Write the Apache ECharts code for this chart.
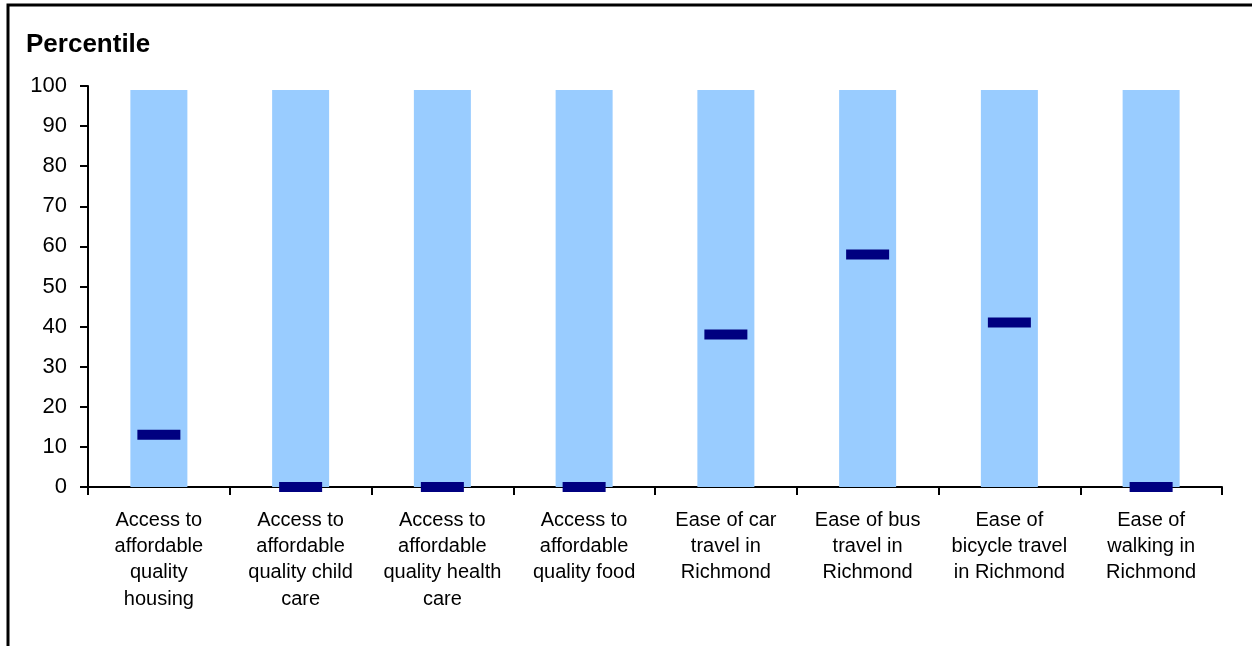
<!DOCTYPE html>
<html>
<head>
<meta charset="utf-8">
<script src="https://cdn.jsdelivr.net/npm/echarts@6/dist/echarts.min.js"></script>
<style>
html,body{margin:0;padding:0;background:#fff;}
#chart{width:1252px;height:646px;}
</style>
</head>
<body>
<div id="chart"></div>
<script>
var categories = [
  "Access to\naffordable\nquality\nhousing",
  "Access to\naffordable\nquality child\ncare",
  "Access to\naffordable\nquality health\ncare",
  "Access to\naffordable\nquality food",
  "Ease of car\ntravel in\nRichmond",
  "Ease of bus\ntravel in\nRichmond",
  "Ease of\nbicycle travel\nin Richmond",
  "Ease of\nwalking in\nRichmond"
];
var rangeValues = [99, 99, 99, 99, 99, 99, 99, 99];
var percentileValues = [13, 0, 0, 0, 38, 58, 41, 0];
var yTicks = [0, 10, 20, 30, 40, 50, 60, 70, 80, 90, 100];

var chart = echarts.init(document.getElementById('chart'), null, {renderer: 'canvas'});
var font = "Arial, 'Liberation Sans', sans-serif";
chart.setOption({
  animation: false,
  backgroundColor: '#ffffff',
  title: {
    text: 'Percentile',
    left: 21, top: 27,
    textStyle: {fontFamily: font, fontSize: 26, fontWeight: 'bold', color: '#000'}
  },
  graphic: [{
    type: 'rect',
    shape: {x: 8, y: 5, width: 1400, height: 800},
    style: {fill: null, stroke: '#000', lineWidth: 3},
    silent: true,
    z: 100
  }],
  grid: {left: 88, right: 30, top: 86, bottom: 159, containLabel: false},
  xAxis: {
    type: 'category',
    data: categories,
    axisLine: {lineStyle: {color: '#000', width: 2}},
    axisTick: {show: true, alignWithLabel: false, length: 8, lineStyle: {color: '#000', width: 2}},
    axisLabel: {
      interval: 0, margin: 20, color: '#000',
      fontFamily: font, fontSize: 20, lineHeight: 26.3, align: 'center'
    },
    splitLine: {show: false}
  },
  yAxis: {
    type: 'value',
    min: 0, max: 100, interval: 10,
    axisLine: {show: true, lineStyle: {color: '#000', width: 2}},
    axisTick: {show: true, length: 8, lineStyle: {color: '#000', width: 2}},
    axisLabel: {
      margin: 21, color: '#000', fontFamily: font, fontSize: 22,
      customValues: yTicks
    },
    splitLine: {show: false}
  },
  series: [
    {
      type: 'bar',
      data: rangeValues,
      barWidth: 57,
      itemStyle: {color: '#99CCFF'},
      silent: true,
      z: 1
    },
    {
      type: 'scatter',
      data: percentileValues,
      symbol: 'rect',
      symbolSize: [43, 10],
      itemStyle: {color: '#000080', opacity: 1},
      silent: true,
      z: 5
    }
  ]
});
</script>
</body>
</html>
